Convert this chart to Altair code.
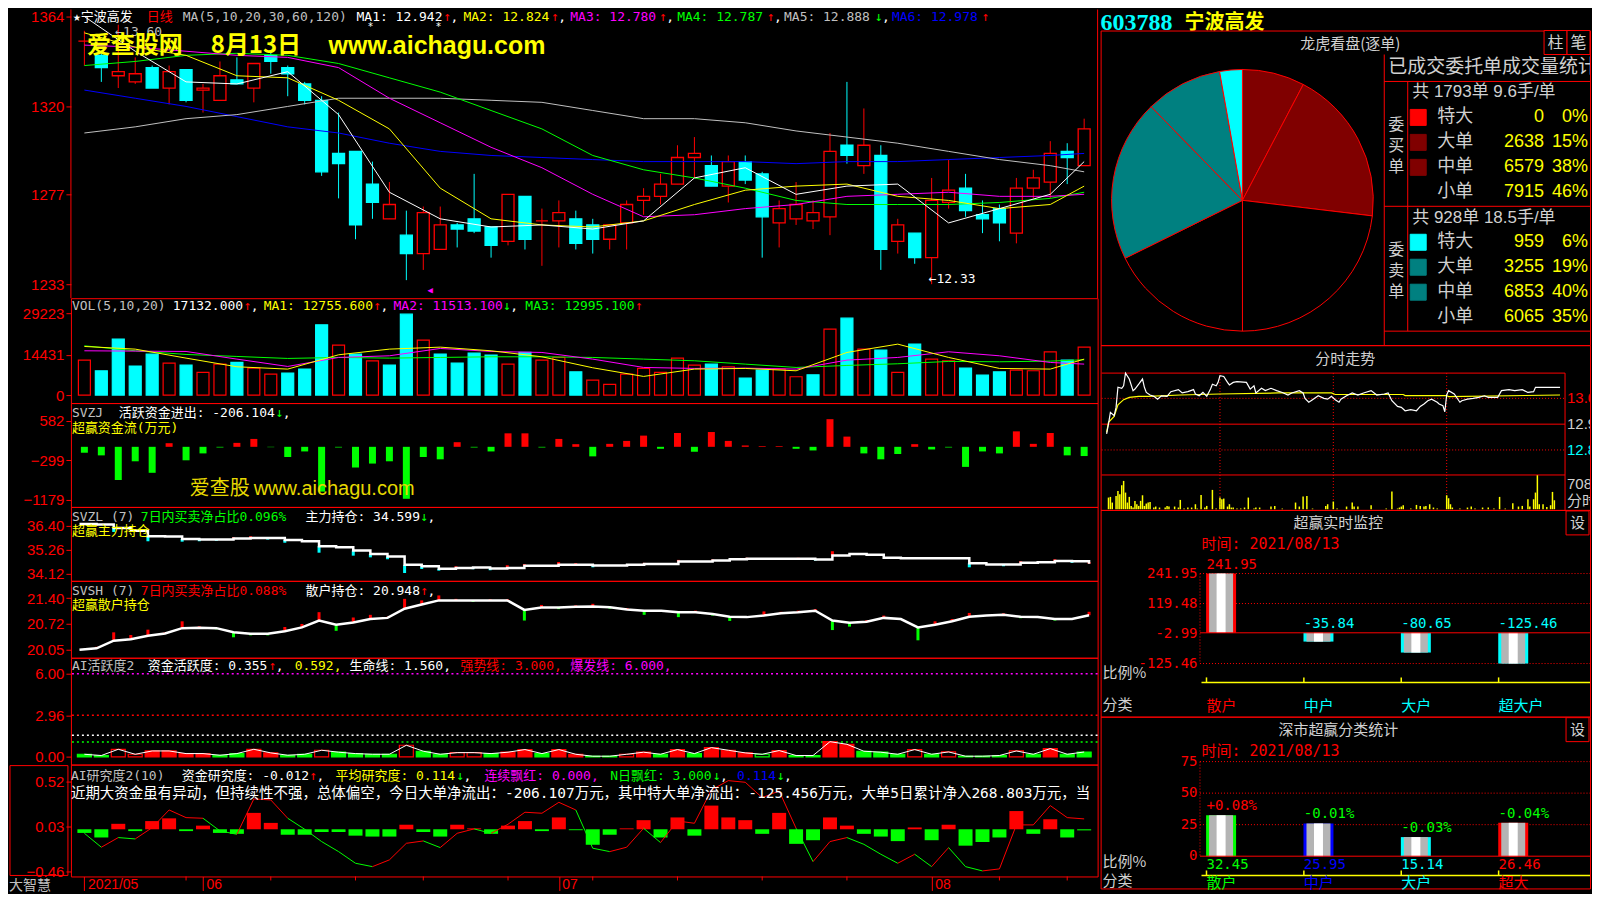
import altair as alt
import pandas as pd
import numpy as np

RED = '#ff0000'; CYAN = '#00ffff'; GREEN = '#00ff00'; YEL = '#ffff00'
MAG = '#ff00ff'; WHITE = '#ffffff'; GRAY = '#c0c0c0'; BLUE = '#0000ff'; BLACK = '#000000'
LGRAY = '#d0d0d0'
MONO = 'DejaVu Sans Mono, Noto Sans CJK SC'
CJK = 'Noto Sans CJK SC'
LAB = 'Liberation Sans'
SANSCJK = 'Liberation Sans, Noto Sans CJK SC'

# ---------------- daily candles (2021-05-21 .. 2021-08-13) ----------------
opens = [13.52, 13.45, 13.35, 13.32, 13.39, 13.29, 13.38, 13.28, 13.23, 13.33,
         13.29, 13.45, 13.39, 13.31, 13.23, 12.97, 12.98, 12.82, 12.65, 12.57,
         12.48, 12.50, 12.62, 12.65, 12.61, 12.54, 12.76, 12.64, 12.64, 12.65,
         12.62, 12.55, 12.63, 12.74, 12.76, 12.82, 12.95, 12.91, 12.81, 12.93,
         12.87, 12.63, 12.65, 12.64, 12.66, 13.01, 12.91, 12.96, 12.54, 12.58,
         12.46, 12.73, 12.80, 12.67, 12.70, 12.58, 12.80, 12.83, 12.98, 12.91]
closes = [13.52, 13.39, 13.37, 13.36, 13.29, 13.37, 13.23, 13.29, 13.35, 13.31,
          13.41, 13.42, 13.36, 13.23, 12.88, 12.92, 12.62, 12.73, 12.72, 12.48,
          12.68, 12.62, 12.60, 12.59, 12.52, 12.77, 12.55, 12.64, 12.68, 12.53,
          12.55, 12.62, 12.72, 12.76, 12.82, 12.95, 12.97, 12.81, 12.93, 12.84,
          12.66, 12.70, 12.72, 12.68, 12.98, 12.96, 13.01, 12.50, 12.62, 12.46,
          12.74, 12.79, 12.69, 12.65, 12.63, 12.80, 12.85, 12.97, 12.95, 13.09]
highs = [13.57, 13.47, 13.60, 13.44, 13.40, 13.40, 13.38, 13.31, 13.42, 13.44,
         13.41, 13.47, 13.40, 13.32, 13.25, 13.17, 12.98, 12.93, 12.83, 12.69,
         12.71, 12.71, 12.63, 12.87, 12.61, 12.77, 12.76, 12.70, 12.74, 12.69,
         12.65, 12.62, 12.74, 12.80, 12.87, 13.01, 13.05, 12.96, 12.96, 12.96,
         12.88, 12.74, 12.83, 12.74, 13.07, 13.32, 13.19, 13.01, 12.65, 12.58,
         12.85, 12.94, 12.87, 12.74, 12.72, 12.85, 12.89, 13.03, 13.02, 13.14]
lows = [13.40, 13.32, 13.29, 13.31, 13.29, 13.21, 13.22, 13.17, 13.23, 13.31,
        13.22, 13.36, 13.25, 13.21, 12.86, 12.75, 12.55, 12.65, 12.65, 12.35,
        12.40, 12.50, 12.51, 12.58, 12.46, 12.52, 12.50, 12.42, 12.51, 12.50,
        12.48, 12.50, 12.50, 12.67, 12.72, 12.82, 12.85, 12.81, 12.73, 12.82,
        12.46, 12.51, 12.62, 12.60, 12.57, 12.92, 12.87, 12.40, 12.48, 12.43,
        12.33, 12.70, 12.66, 12.58, 12.54, 12.53, 12.75, 12.75, 12.82, 12.91]

# moving averages read at every third trading day
ma_idx = [0, 3, 6, 9, 12, 15, 18, 21, 24, 27, 30, 33, 36, 39, 42, 45, 48, 51, 54, 57, 59]
ma5 = [13.64, 13.47, 13.32, 13.31, 13.37, 13.16, 12.78, 12.65, 12.61, 12.62, 12.60,
       12.64, 12.85, 12.90, 12.77, 12.81, 12.82, 12.63, 12.70, 12.77, 12.93]
ma10 = [13.56, 13.49, 13.45, 13.35, 13.34, 13.23, 13.09, 12.80, 12.65, 12.62, 12.61,
        12.64, 12.72, 12.79, 12.81, 12.82, 12.76, 12.74, 12.70, 12.72, 12.81]
ma20 = [13.50, 13.49, 13.47, 13.45, 13.44, 13.39, 13.24, 13.12, 13.00, 12.90, 12.77,
        12.66, 12.67, 12.70, 12.72, 12.76, 12.77, 12.78, 12.76, 12.76, 12.77]
ma30 = [13.40, 13.42, 13.45, 13.46, 13.45, 13.41, 13.34, 13.27, 13.18, 13.09, 12.96,
        12.89, 12.85, 12.80, 12.74, 12.72, 12.72, 12.72, 12.73, 12.75, 12.78]
ma60 = [13.07, 13.10, 13.14, 13.16, 13.20, 13.24, 13.24, 13.24, 13.23, 13.22, 13.18,
        13.14, 13.14, 13.12, 13.08, 13.05, 13.02, 12.98, 12.94, 12.91, 12.88]
ma120 = [13.28, 13.24, 13.20, 13.15, 13.10, 13.07, 13.02, 12.98, 12.96, 12.95, 12.94,
         12.93, 12.93, 12.93, 12.92, 12.93, 12.93, 12.94, 12.95, 12.96, 12.97]

volumes = [12474, 8672, 19958, 10336, 14612, 11405, 10692, 8078, 11048, 11642,
           9623, 7484, 7841, 9266, 25067, 17820, 14612, 12236, 10692, 28868,
           19602, 14612, 11405, 14969, 14256, 11048, 15206, 12474, 13424, 8316,
           5346, 3802, 7484, 9504, 8078, 13187, 10692, 11048, 10098, 6059,
           8910, 9266, 6534, 7247, 23522, 27443, 16394, 16038, 8078, 18176,
           12830, 12236, 9623, 7128, 8316, 8910, 8672, 15444, 12474, 17132]
vol_ma5 = [17345, 16394, 13187, 10098, 9266, 14375, 16394, 17107, 15800, 13662, 9742,
           6653, 9266, 9504, 8672, 15206, 18176, 13424, 9504, 9266, 12830]
vol_ma10 = [15800, 15682, 15563, 12830, 10217, 13424, 14018, 16632, 15563, 15206, 12830,
            9860, 9504, 9623, 9266, 12474, 13424, 15444, 14018, 11642, 11048]
vol_ma20 = [17582, 15800, 14494, 13781, 13068, 13424, 13187, 13424, 13662, 13662, 13424,
            12830, 12236, 11048, 9860, 10573, 11167, 11999, 11880, 12118, 12593]

svzj = [-132, -191, -741, -323, -580, 81, -301, -147, -15, 88,
        176, -8, -228, -103, -1000, -15, -462, -374, -323, -1160,
        -228, -279, 103, -15, -103, 301, 301, -15, 176, 59,
        -213, 66, 132, 250, -44, 308, -110, 330, 132, 30,
        15, 15, -44, -81, 617, 228, -147, -279, -161, 59,
        -59, -15, -448, -103, -147, 345, 66, 308, -191, -206]
svzl = [36.48, 36.45, 36.29, 36.16, 35.90, 35.88, 35.77, 35.74, 35.74, 35.79,
        35.82, 35.82, 35.72, 35.66, 35.43, 35.38, 35.22, 35.06, 34.94, 34.55,
        34.48, 34.36, 34.40, 34.42, 34.37, 34.40, 34.50, 34.50, 34.55, 34.55,
        34.51, 34.51, 34.55, 34.59, 34.59, 34.70, 34.70, 34.75, 34.81, 34.83,
        34.83, 34.83, 34.83, 34.80, 34.99, 35.06, 35.02, 34.88, 34.86, 34.86,
        34.86, 34.86, 34.62, 34.56, 34.56, 34.64, 34.67, 34.73, 34.72, 34.60]
svzl_tick = [0, 0, -0.19, 0, -0.24, 0.06, -0.13, -0.08, -0.06, 0.06,
             0.08, -0.08, -0.13, 0, -0.31, 0, -0.24, -0.16, -0.13, -0.39,
             -0.13, -0.09, 0.08, -0.08, -0.08, 0.13, 0.08, -0.05, 0.13, 0.08,
             -0.08, 0, 0, 0.05, 0, 0.08, 0, 0.05, 0, 0.05,
             0, 0, 0.05, -0.05, 0.2, 0, 0, 0, 0, 0,
             0, 0, -0.19, 0, -0.08, 0.08, 0, 0.08, -0.08, 0.08]
svsh = [20.04, 20.08, 20.28, 20.32, 20.41, 20.47, 20.61, 20.62, 20.61, 20.50,
        20.46, 20.46, 20.53, 20.63, 20.81, 20.70, 20.76, 20.85, 20.88, 21.12,
        21.23, 21.34, 21.34, 21.34, 21.34, 21.34, 21.09, 21.15, 21.15, 21.17,
        21.18, 21.16, 21.10, 21.07, 21.07, 21.03, 21.03, 20.98, 20.91, 20.90,
        20.94, 21.00, 21.03, 21.07, 20.81, 20.75, 20.78, 20.88, 20.85, 20.63,
        20.70, 20.79, 20.91, 20.94, 20.96, 20.91, 20.90, 20.85, 20.85, 20.95]
svsh_tick = [0, 0.04, 0.22, 0.11, 0.16, 0.03, 0.18, 0.04, -0.03, -0.13,
             -0.04, -0.04, 0.11, 0.09, 0.22, -0.16, 0.13, 0.11, 0.03, 0.26,
             0.11, 0.13, 0.04, -0.04, 0.03, 0.03, -0.28, 0.07, -0.04, 0.04,
             0.07, -0.04, 0.04, -0.11, 0, -0.13, 0.04, -0.04, -0.11, 0,
             0.11, 0.04, 0.04, 0.04, -0.25, -0.10, 0.04, 0.06, 0, -0.34,
             0.09, 0.06, 0.10, 0, 0.04, -0.04, 0, -0.04, 0, 0.09]
act = [0.19, 0.10, 0.55, 0.19, 0.43, 0.43, 0.24, 0.24, 0.12, 0.24,
       0.55, 0.29, 0.12, 0.19, 0.48, 0.34, 0.24, 0.19, 0.19, 0.84,
       0.41, 0.19, 0.31, 0.31, 0.24, 0.34, 0.53, 0.24, 0.53, 0.19,
       0.05, 0.05, 0.19, 0.34, 0.19, 0.53, 0.24, 0.67, 0.48, 0.29,
       0.19, 0.46, 0.10, 0.10, 1.10, 0.91, 0.41, 0.34, 0.19, 0.53,
       0.19, 0.36, 0.05, 0.05, 0.10, 0.43, 0.19, 0.60, 0.19, 0.355]
act_type = "gghhrrrrgg" "rrgghggggh" "gghhgrrgrr" "gghrgrgrrr" "qrggrrgggh" "ghggghgrgg"
act_levels = [6.0, 3.0, 1.56, 1.08]
res_bar = [-0.04, -0.09, 0.06, -0.02, 0.09, 0.12, -0.02, 0.04, -0.04, -0.05,
           0.18, 0.07, -0.06, -0.06, -0.03, -0.03, -0.07, -0.08, -0.08, 0.05,
           -0.03, -0.08, 0.05, 0.01, -0.05, 0.04, 0.09, -0.02, 0.13, -0.01,
           -0.17, -0.06, 0.01, 0.10, -0.09, 0.13, -0.07, 0.26, 0.13, 0.10,
           -0.05, 0.18, -0.16, -0.12, 0.13, 0.04, -0.05, -0.08, -0.13, 0.02,
           -0.12, 0.05, -0.18, -0.14, -0.09, 0.20, -0.05, 0.11, -0.09, -0.012]
res_line = [-0.044, -0.197, -0.091, -0.106, 0.018, 0.212, 0.128, 0.121, -0.018, -0.055,
            0.333, 0.322, 0.121, 0.0, -0.135, -0.245, -0.373, -0.41, -0.336, -0.154,
            -0.128, -0.201, -0.044, 0.004, -0.044, 0.055, 0.187, 0.176, 0.296, 0.212,
            -0.208, -0.245, -0.197, 0.011, -0.146, 0.091, 0.066, 0.432, 0.534, 0.516,
            0.347, 0.421, 0.011, -0.355, -0.135, -0.091, -0.165, -0.274, -0.373, -0.274,
            -0.41, -0.201, -0.41, -0.457, -0.435, 0.048, 0.048, 0.26, 0.128, 0.114]
month_ticks = [0, 7, 28, 50]
month_labels = ['2021/05', '06', '07', '08']
week_ticks = [6, 11, 16, 20, 25, 30, 35, 40, 45, 54, 58]

# ---------------- right side ----------------
buy_names = ['特大', '大单', '中单', '小单']
buy_vol = [0, 2638, 6579, 7915]
buy_pct = [0, 15, 38, 46]
sell_vol = [959, 3255, 6853, 6065]
sell_pct = [6, 19, 40, 35]
buy_orders, buy_avg = 1793, 9.6
sell_orders, sell_avg = 928, 18.5

intra_min = [0, 1, 2, 4, 5, 6, 8, 9, 10, 12, 14, 15, 17, 19, 20, 21, 23, 25, 27, 29,
             32, 34, 38, 40, 43, 46, 47, 49, 51, 53, 55, 56, 58, 59, 60, 62, 64, 65, 67, 69,
             74, 76, 78, 79, 82, 84, 87, 90, 93, 96, 98, 102, 104, 105, 107, 109, 112, 115, 117, 119,
             121, 123, 124, 127, 130, 133, 136, 140, 143, 147, 149, 151, 154, 156, 158, 161, 164, 166, 168, 170,
             172, 175, 176, 178, 179, 180, 181, 184, 187, 188, 191, 194, 197, 200, 202, 207, 209, 213, 216, 220,
             223, 226, 227, 233, 240]
intra_price = [12.922, 12.961, 13.006, 12.993, 13.025, 13.103, 13.099, 13.109, 13.158, 13.135,
               13.090, 13.096, 13.115, 13.135, 13.103, 13.083, 13.073, 13.068, 13.057, 13.070,
               13.068, 13.086, 13.094, 13.081, 13.086, 13.094, 13.077, 13.070, 13.083, 13.068,
               13.096, 13.115, 13.109, 13.122, 13.148, 13.145, 13.122, 13.112, 13.122, 13.125,
               13.122, 13.096, 13.109, 13.081, 13.099, 13.090, 13.099, 13.090, 13.083, 13.073,
               13.081, 13.090, 13.081, 13.060, 13.045, 13.055, 13.070, 13.060, 13.057, 13.068,
               13.055, 13.045, 13.057, 13.070, 13.081, 13.073, 13.081, 13.090, 13.073, 13.077,
               13.081, 13.051, 13.029, 13.025, 13.012, 13.016, 13.012, 13.029, 13.038, 13.051,
               13.057, 13.045, 13.038, 13.032, 13.008, 13.073, 13.090, 13.077, 13.045, 13.051,
               13.057, 13.060, 13.064, 13.070, 13.064, 13.064, 13.090, 13.094, 13.090, 13.094,
               13.083, 13.086, 13.103, 13.103, 13.103]
avg_min = [0, 1, 4, 6, 9, 12, 17, 22, 39, 60, 91, 119, 121, 157, 158, 180, 181, 240]
avg_price = [12.928, 12.967, 12.990, 13.035, 13.055, 13.064, 13.068, 13.068, 13.073, 13.077,
             13.081, 13.081, 13.075, 13.075, 13.071, 13.071, 13.067, 13.073]
iv_min = [1, 2, 3, 5, 6, 7, 8, 9, 10, 11, 12, 13, 14, 15, 16, 17, 18, 19, 20, 21,
          22, 23, 25, 26, 28, 31, 32, 33, 36, 38, 39, 41, 43, 45, 47, 48, 50, 52, 53, 56,
          58, 60, 61, 62, 64, 65, 66, 67, 69, 71, 73, 75, 78, 79, 81, 87, 89, 93, 100, 102,
          104, 106, 109, 116, 117, 120, 122, 127, 130, 131, 133, 140, 148, 151, 154, 155, 156, 157, 161, 164,
          166, 168, 169, 171, 173, 175, 180, 181, 182, 183, 187, 191, 193, 195, 199, 202, 205, 208, 211, 215,
          218, 220, 223, 224, 226, 227, 228, 229, 231, 233, 235, 236, 237]
iv_vol = [243, 257, 139, 278, 382, 312, 500, 590, 347, 139, 257, 69, 35, 174, 104, 69, 174, 291, 69, 118,
          139, 153, 35, 56, 35, 35, 69, 56, 56, 35, 194, 14, 35, 35, 104, 14, 298, 35, 69, 403,
          14, 243, 208, 222, 56, 104, 35, 35, 14, 14, 35, 243, 14, 35, 35, 56, 69, 14, 139, 56,
          264, 278, 14, 69, 104, 160, 14, 56, 139, 56, 56, 83, 14, 368, 14, 35, 56, 83, 14, 90,
          69, 56, 69, 104, 35, 14, 291, 229, 104, 35, 14, 35, 56, 14, 35, 35, 14, 257, 14, 125,
          56, 69, 208, 56, 208, 347, 708, 104, 104, 49, 83, 361, 187]
intra_levels = [13.06, 12.96, 12.86]
intra_top, intra_bottom, intra_vmax = 13.158, 12.763, 708

rt_cats = ['散户', '中户', '大户', '超大户']
rt_vals = [241.95, -35.84, -80.65, -125.46]
rt_ticks = [241.95, 119.48, -2.99, -125.46]
sz_cats = ['散户', '中户', '大户', '超大']
sz_vals = [32.45, 25.95, 15.14, 26.46]
sz_chg = ['+0.08%', '-0.01%', '-0.03%', '-0.04%']
sz_ticks = [75, 50, 25, 0]

# ---------------- helpers ----------------
ONE = pd.DataFrame({'k': [0]})


def T(s, x, y, color, size=13, align='left', font=MONO, weight='normal', baseline='middle', clip=False):
    return alt.Chart(ONE).mark_text(text=s, align=align, baseline=baseline, color=color, fontSize=size,
                                    font=font, fontWeight=weight, clip=clip).encode(
        x=alt.value(x), y=alt.value(y))


def VR(x, y1, y2, color=RED, dash=None, w=1):
    kw = dict(color=color, strokeWidth=w)
    if dash is not None:
        kw['strokeDash'] = dash
    return alt.Chart(ONE).mark_rule(**kw).encode(x=alt.value(x), y=alt.value(y1), y2=alt.value(y2))


def HR(y, x1, x2, color=RED, dash=None, w=1):
    kw = dict(color=color, strokeWidth=w)
    if dash is not None:
        kw['strokeDash'] = dash
    return alt.Chart(ONE).mark_rule(**kw).encode(y=alt.value(y), x=alt.value(x1), x2=alt.value(x2))


def BOX(x1, x2, y1, y2, stroke=RED, fill=BLACK):
    return alt.Chart(ONE).mark_rect(stroke=stroke, fill=fill, strokeWidth=1).encode(
        x=alt.value(x1), x2=alt.value(x2), y=alt.value(y1), y2=alt.value(y2))


PW = 1028
XS = alt.Scale(domain=[-0.5, 59.5], nice=False, zero=False)


def X(field='i', axis=None):
    return alt.X(f'{field}:Q', scale=XS, axis=axis)


def yax(values, fmt='.2f', expr=None):
    kw = dict(values=values, title=None, grid=False, domain=False, ticks=True, tickColor=RED, tickSize=5,
              labelColor=RED, labelFont=LAB, labelFontSize=15, labelPadding=2, minExtent=62, maxExtent=62,
              format=fmt, orient='left', labelBaseline='middle')
    if expr:
        kw['labelExpr'] = expr
    return alt.Axis(**kw)


def Yer(dom, axis):
    sc = alt.Scale(domain=dom, nice=False, zero=False)
    return lambda f: alt.Y(f'{f}:Q', scale=sc, axis=axis)


TRANSP = alt.ViewBackground(stroke='transparent')

# ---------------- P1 : candles ----------------
cdf = pd.DataFrame({'i': range(60), 'o': opens, 'c': closes, 'h': highs, 'l': lows})
up = cdf['c'] >= cdf['o']
cdf['col'] = np.where(up, RED, CYAN)
cdf['fill'] = np.where(up, BLACK, CYAN)
H1 = 289
Y1 = Yer([12.2616, 13.674], yax([13.64, 13.20, 12.77, 12.33], expr="format(datum.value*100, '.0f')"))
wick = alt.Chart(cdf).mark_rule(strokeWidth=1).encode(x=X(), y=Y1('l'), y2='h',
                                                       color=alt.Color('col:N', scale=None))
body = alt.Chart(cdf).mark_bar(size=12, strokeWidth=1.3).encode(
    x=X(), y=Y1('o'), y2='c', fill=alt.Fill('fill:N', scale=None), stroke=alt.Stroke('col:N', scale=None))
mdf = pd.DataFrame({'i': ma_idx, 'm5': ma5, 'm10': ma10, 'm20': ma20, 'm30': ma30, 'm60': ma60, 'm120': ma120})
ma_layers = [alt.Chart(mdf).mark_line(color=c, strokeWidth=1).encode(x=X(), y=Y1(f))
             for f, c in [('m120', BLUE), ('m60', GRAY), ('m30', GREEN), ('m20', MAG), ('m10', YEL), ('m5', WHITE)]]
ihi = int(np.argmax(highs)); ilo = int(np.argmin(lows))
ann = pd.DataFrame({'i': [ihi, ilo], 'v': [highs[ihi], lows[ilo]],
                    't': [f'←{highs[ihi]:.2f}', f'←{lows[ilo]:.2f}']})
ann_hi = alt.Chart(ann.iloc[[0]]).mark_text(align='left', baseline='middle', dx=-3, dy=7, color=GRAY,
                                             fontSize=13, font=MONO).encode(x=X(), y=Y1('v'), text='t:N')
ann_lo = alt.Chart(ann.iloc[[1]]).mark_text(align='left', baseline='middle', dx=-3, dy=-5, color=WHITE,
                                             fontSize=13, font=MONO).encode(x=X(), y=Y1('v'), text='t:N')
HY = 7
p1_text = [
    T('★宁波高发', 2, HY, WHITE), T('日线', 76, HY, RED), T('MA(5,10,20,30,60,120)', 112, HY, GRAY),
    T('MA1: 12.942', 286, HY, WHITE), T('↑', 373, HY, RED), T(',', 380, HY, WHITE),
    T('MA2: 12.824', 393, HY, YEL), T('↑', 481, HY, RED), T(',', 488, HY, WHITE),
    T('MA3: 12.780', 500, HY, MAG), T('↑', 589, HY, RED), T(',', 596, HY, WHITE),
    T('MA4: 12.787', 607, HY, GREEN), T('↑', 697, HY, RED), T(',', 704, HY, WHITE),
    T('MA5: 12.888', 714, HY, GRAY), T('↓', 805, HY, GREEN), T(',', 812, HY, WHITE),
    T('MA6: 12.978', 822, HY, BLUE), T('↑', 912, HY, RED),
    T('*', 300, 17, WHITE, 10, align='center'), T('*', 368, 17, WHITE, 10, align='center'),
    T('爱查股网', 16, 36, YEL, 24, font=CJK, weight='bold'),
    T('8月13日', 140, 36, YEL, 24, font=CJK, weight='bold'),
    T('www.aichagu.com', 258, 36, YEL, 25, font=LAB, weight='bold'),
    T('◀', 357, 281, MAG, 9),
]
P1 = alt.layer(VR(0, 0, H1), VR(PW, 0, H1), wick, body, *ma_layers, ann_hi, ann_lo, *p1_text).properties(
    width=PW, height=H1, view=TRANSP)

# ---------------- P2 : volume ----------------
vol_red = [True] + [closes[k] >= closes[k - 1] for k in range(1, 60)]
vdf = pd.DataFrame({'i': range(60), 'v': volumes})
vdf['col'] = np.where(vol_red, RED, CYAN)
vdf['fill'] = np.where(vol_red, BLACK, CYAN)
Y2f = Yer([-2851, 34569], yax([29223, 14431, 0], fmt='d'))
vbars = alt.Chart(vdf).mark_bar(size=12, strokeWidth=1.2).encode(
    x=X(), y=Y2f('v'), y2=alt.datum(0), fill=alt.Fill('fill:N', scale=None), stroke=alt.Stroke('col:N', scale=None))
vmdf = pd.DataFrame({'i': ma_idx, 'a': vol_ma5, 'b': vol_ma10, 'c': vol_ma20})
vma = [alt.Chart(vmdf).mark_line(color=c, strokeWidth=1).encode(x=X(), y=Y2f(f))
       for f, c in [('c', GREEN), ('b', MAG), ('a', YEL)]]
p2_text = [T('VOL(5,10,20)', 1, 8, GRAY), T('17132.000', 102, 8, WHITE), T('↑', 173, 8, RED), T(',', 180, 8, WHITE),
           T('MA1: 12755.600', 193, 8, YEL), T('↑', 303, 8, RED), T(',', 310, 8, WHITE),
           T('MA2: 11513.100', 323, 8, MAG), T('↓', 433, 8, GREEN), T(',', 440, 8, WHITE),
           T('MA3: 12995.100', 455, 8, GREEN), T('↑', 565, 8, RED)]
P2 = alt.layer(vbars, *vma, *p2_text).properties(width=PW, height=105)

# ---------------- P3 : SVZJ ----------------
zdf = pd.DataFrame({'i': range(60), 'v': svzj})
zdf['col'] = np.where(zdf['v'] > 0, RED, GREEN)
Y3 = Yer([-1341.7, 976.6], yax([582, -299, -1179], fmt='d'))
zbars = alt.Chart(zdf).mark_bar(size=7).encode(x=X(), y=Y3('v'), y2=alt.datum(0),
                                               color=alt.Color('col:N', scale=None))
p3_text = [T('SVZJ', 1, 10, GRAY), T('活跃资金进出: -206.104', 48, 10, WHITE), T('↓', 205, 10, GREEN),
           T(',', 212, 10, WHITE), T('超赢资金流(万元)', 1, 25, YEL),
           T('爱查股', 119, 86, '#e6d800', 20, font=CJK), T('www.aichagu.com', 183, 86, '#e6d800', 20, font=LAB)]
P3 = alt.layer(zbars, *p3_text).properties(width=PW, height=104)


def tick_layer(vals, deltas, Yf, down_col):
    d = pd.DataFrame({'i': range(60), 'v': vals, 'dv': deltas})
    d = d[d['dv'] != 0].copy()
    d['v2'] = d['v'] + d['dv']
    d['col'] = np.where(d['dv'] > 0, RED, down_col)
    return alt.Chart(d).mark_rule(strokeWidth=3).encode(x=X(), y=Yf('v'), y2='v2',
                                                       color=alt.Color('col:N', scale=None))


# ---------------- P4 : SVZL ----------------
Y4 = Yer([33.79, 37.283], yax([36.40, 35.26, 34.12]))
ldf4 = pd.DataFrame({'i': range(60), 'v': svzl})
l4 = alt.Chart(ldf4).mark_line(color=WHITE, strokeWidth=2.5, interpolate='step-after').encode(x=X(), y=Y4('v'))
p4_text = [T('SVZL (7)', 1, 10, GRAY), T('7日内买卖净占比0.096%', 70, 10, GREEN),
           T('主力持仓: 34.599', 235, 10, WHITE), T('↓', 350, 10, GREEN), T(',', 357, 10, WHITE),
           T('超赢主力持仓', 1, 24, YEL)]
P4 = alt.layer(tick_layer(svzl, svzl_tick, Y4, CYAN), l4, *p4_text).properties(width=PW, height=74)

# ---------------- P5 : SVSH ----------------
Y5 = Yer([19.832, 21.854], yax([21.40, 20.72, 20.05]))
ldf5 = pd.DataFrame({'i': range(60), 'v': svsh})
l5 = alt.Chart(ldf5).mark_line(color=WHITE, strokeWidth=2.5).encode(x=X(), y=Y5('v'))
p5_text = [T('SVSH (7)', 1, 10, GRAY), T('7日内买卖净占比0.088%', 70, 10, RED),
           T('散户持仓: 20.948', 235, 10, WHITE), T('↑', 350, 10, RED), T(',', 357, 10, WHITE),
           T('超赢散户持仓', 1, 24, YEL)]
P5 = alt.layer(tick_layer(svsh, svsh_tick, Y5, GREEN), l5, *p5_text).properties(width=PW, height=77)

# ---------------- P6 : AI活跃度 ----------------
tmap = {'g': (GREEN, GREEN), 'r': (RED, RED), 'h': (BLACK, RED), 'q': (BLACK, GREEN)}
adf = pd.DataFrame({'i': range(60), 'v': act})
adf['fill'] = [tmap[t][0] for t in act_type]
adf['stroke'] = [tmap[t][1] for t in act_type]
Y6 = Yer([-0.555, 7.153], yax([6.00, 2.96, 0.00]))
lvl = pd.DataFrame({'v': act_levels, 'col': [MAG, RED, WHITE, GREEN]})
lv_rules = alt.Chart(lvl).mark_rule(strokeDash=[2, 3], strokeWidth=1.5).encode(
    y=Y6('v'), color=alt.Color('col:N', scale=None))
abars = alt.Chart(adf).mark_bar(size=14, strokeWidth=1.2).encode(
    x=X(), y=Y6('v'), y2=alt.datum(0), fill=alt.Fill('fill:N', scale=None), stroke=alt.Stroke('stroke:N', scale=None))
aline = alt.Chart(adf).mark_line(color=WHITE, strokeWidth=1).encode(x=X(), y=Y6('v'))
p6_text = [T('AI活跃度2', 1, 8, GRAY), T('资金活跃度: 0.355', 77, 8, WHITE), T('↑', 198, 8, RED),
           T(',', 205, 8, WHITE), T('0.592,', 224, 8, YEL), T('生命线: 1.560,', 279, 8, WHITE),
           T('强势线: 3.000,', 390, 8, RED), T('爆发线: 6.000,', 500, 8, MAG)]
P6 = alt.layer(lv_rules, abars, aline, *p6_text).properties(width=PW, height=107)

# ---------------- P7 : AI研究度 ----------------
H7 = 112
lab_expr = ' : '.join([f"datum.value == {t} ? '{l}'" for t, l in zip(month_ticks[:-1], month_labels[:-1])]) \
    + f" : '{month_labels[-1]}'"
xax7 = alt.Axis(values=month_ticks, labelExpr=lab_expr, title=None, grid=False, domain=False, ticks=True,
                tickColor=RED, tickSize=14, labelColor=RED, labelFont=LAB, labelFontSize=14, labelAlign='left',
                labelBaseline='top', labelPadding=-13, labelOffset=3, minExtent=15, maxExtent=15, orient='bottom')
Y7 = Yer([-0.518, 0.710], yax([0.52, 0.03, -0.46]))
rdf = pd.DataFrame({'i': range(60), 'v': res_bar})
rdf['col'] = np.where(rdf['v'] > 0, RED, GREEN)
rbars = alt.Chart(rdf).mark_bar(size=14).encode(x=X(axis=xax7), y=Y7('v'), y2=alt.datum(0),
                                                color=alt.Color('col:N', scale=None))
seg = pd.DataFrame({'i': range(59), 'i2': range(1, 60), 'v': res_line[:-1], 'v2': res_line[1:]})
seg['col'] = np.where((seg['v2'] > seg['v']) | (seg['v2'] > 0), RED, GREEN)
rline = alt.Chart(seg).mark_rule(strokeWidth=1).encode(x=X(axis=xax7), x2='i2', y=Y7('v'), y2='v2',
                                                       color=alt.Color('col:N', scale=None))
wk = alt.Chart(pd.DataFrame({'i': week_ticks})).mark_rule(color=RED, strokeWidth=1).encode(
    x=X(axis=xax7), y=alt.value(H7), y2=alt.value(H7 + 4))
p7_text = [T('AI研究度2(10)', 0, 11, GRAY), T('资金研究度: -0.012', 111, 11, WHITE), T('↑', 239, 11, RED),
           T(',', 246, 11, WHITE), T('平均研究度: 0.114', 265, 11, YEL), T('↓', 386, 11, GREEN),
           T(',', 393, 11, WHITE), T('连续飘红: 0.000,', 414, 11, MAG), T('N日飘红: 3.000', 540, 11, GREEN),
           T('↓', 643, 11, GREEN), T(',', 650, 11, WHITE), T('0.114', 667, 11, BLUE), T('↓', 707, 11, GREEN),
           T(',', 714, 11, WHITE),
           T('近期大资金虽有异动，但持续性不强，总体偏空，今日大单净流出：-206.107万元，其中特大单净流出：-125.456万元，大单5日累计净入268.803万元，当',
             0, 29, WHITE, 14.5, clip=True),
           BOX(-61, -3, 1, H7 - 1, stroke=RED, fill='transparent'),
           T('大智慧', -62, H7 + 9.5, GRAY, 14, font=CJK)]
P7 = alt.layer(rbars, rline, wk, *p7_text).properties(width=PW, height=H7)

left = alt.vconcat(P1, P2, P3, P4, P5, P6, P7, spacing=0, bounds='flush')

# ---------------- right column ----------------
RW = 490
R1 = alt.layer(T('603788', 0, 20, CYAN, 24, font='Liberation Serif', weight='bold', baseline='alphabetic'),
               T('宁波高发', 84, 19, YEL, 20, font=CJK, weight='bold', baseline='alphabetic')).properties(
    width=RW, height=21, view=TRANSP)

pie_df = pd.DataFrame({'ord': range(8),
                       'vol': [buy_vol[0], buy_vol[1], buy_vol[2], buy_vol[3],
                               sell_vol[3], sell_vol[2], sell_vol[1], sell_vol[0]],
                       'col': [RED, '#800000', '#800000', BLACK, BLACK, '#008080', '#008080', CYAN]})
pie = alt.Chart(pie_df).mark_arc(radius=131, stroke=RED, strokeWidth=1).encode(
    theta=alt.Theta('vol:Q', stack=True), order=alt.Order('ord:Q'),
    fill=alt.Fill('col:N', scale=None), x=alt.value(142), y=alt.value(170))
buy_sq = [RED, '#800000', '#800000', None]
sell_sq = [CYAN, '#008080', '#008080', None]
tab = []
for rows_y, vols, pcts, sqs in [([87, 112, 137, 162], buy_vol, buy_pct, buy_sq),
                                ([212, 237, 262, 287], sell_vol, sell_pct, sell_sq)]:
    for yy, nm, v, p, sq in zip(rows_y, buy_names, vols, pcts, sqs):
        if sq:
            tab.append(BOX(310, 326, yy - 8, yy + 8, stroke=sq, fill=sq))
        tab.append(T(nm, 337, yy, LGRAY, 18, font=CJK))
        tab.append(T(str(v), 444, yy, YEL, 18, font=LAB, align='right'))
        tab.append(T(f'{p}%', 488, yy, YEL, 18, font=LAB, align='right'))
r2_dec = [
    T('龙虎看盘(逐单)', 250, 13, LGRAY, 15, font=CJK, align='center'),
    BOX(444, 467, 0, 24), BOX(467, 490, 0, 24),
    T('柱', 455.5, 12, LGRAY, 16, font=CJK, align='center'), T('笔', 478.5, 12, LGRAY, 16, font=CJK, align='center'),
    VR(284, 24, 315), HR(51, 284, 490), HR(176, 284, 490), HR(301, 284, 490), VR(307.5, 51, 301),
    T('已成交委托单成交量统计', 288, 37, LGRAY, 19, font=CJK, clip=True),
    T(f'共 {buy_orders}单 {buy_avg}手/单', 312, 62, LGRAY, 17, font=SANSCJK),
    T(f'共 {sell_orders}单 {sell_avg}手/单', 312, 188, LGRAY, 17, font=SANSCJK),
    T('委', 296, 95, LGRAY, 16, font=CJK, align='center'), T('买', 296, 116, LGRAY, 16, font=CJK, align='center'),
    T('单', 296, 137, LGRAY, 16, font=CJK, align='center'),
    T('委', 296, 220, LGRAY, 16, font=CJK, align='center'), T('卖', 296, 241, LGRAY, 16, font=CJK, align='center'),
    T('单', 296, 262, LGRAY, 16, font=CJK, align='center'),
]
R2 = alt.layer(pie, *r2_dec, *tab).properties(width=RW, height=315)

# intraday
XS3 = alt.Scale(domain=[0, 240], range=[1, 465], nice=False, zero=False)
YP = alt.Scale(domain=[intra_bottom, intra_top], range=[130, 28], nice=False, zero=False)
YV = alt.Scale(domain=[0, intra_vmax], range=[164.3, 130.3], nice=False, zero=False)
idf = pd.DataFrame({'m': intra_min, 'p': intra_price})
adf2 = pd.DataFrame({'m': avg_min, 'p': avg_price})
ivdf = pd.DataFrame({'m': iv_min, 'v': iv_vol})
grid_solid = pd.DataFrame({'p': [intra_top, intra_levels[1], intra_bottom]})
grid_dot = pd.DataFrame({'p': [intra_levels[0], intra_levels[2]]})
lbl3 = pd.DataFrame({'p': intra_levels, 't': [f'{v:.2f}' for v in intra_levels], 'c': [RED, LGRAY, CYAN]})
r3 = [
    alt.Chart(grid_solid).mark_rule(color=RED).encode(x=alt.value(1), x2=alt.value(465),
                                                       y=alt.Y('p:Q', scale=YP, axis=None)),
    alt.Chart(grid_dot).mark_rule(color=RED, strokeDash=[1, 2]).encode(x=alt.value(1), x2=alt.value(465),
                                                                        y=alt.Y('p:Q', scale=YP, axis=None)),
    alt.Chart(pd.DataFrame({'m': [60, 120, 180]})).mark_rule(color=RED, strokeDash=[1, 2]).encode(
        x=alt.X('m:Q', scale=XS3, axis=None), y=alt.value(28), y2=alt.value(165)),
    VR(465, 28, 165),
    alt.Chart(ivdf).mark_bar(size=1.5, color=YEL).encode(x=alt.X('m:Q', scale=XS3, axis=None),
                                                         y=alt.Y('v:Q', scale=YV, axis=None), y2=alt.datum(0)),
    alt.Chart(adf2).mark_line(color=YEL, strokeWidth=1.2).encode(x=alt.X('m:Q', scale=XS3, axis=None),
                                                                 y=alt.Y('p:Q', scale=YP, axis=None)),
    alt.Chart(idf).mark_line(color=WHITE, strokeWidth=1.2).encode(x=alt.X('m:Q', scale=XS3, axis=None),
                                                                  y=alt.Y('p:Q', scale=YP, axis=None)),
    alt.Chart(lbl3).mark_text(align='left', baseline='middle', font=LAB, fontSize=15, clip=True).encode(
        x=alt.value(467), y=alt.Y('p:Q', scale=YP, axis=None), text='t:N', color=alt.Color('c:N', scale=None)),
    T(str(intra_vmax), 467, 139, LGRAY, 15, font=LAB, clip=True),
    T('分时', 467, 156, LGRAY, 15, font=CJK, clip=True),
    T('分时走势', 245, 14, LGRAY, 15, font=CJK, align='center'),
]
R3 = alt.layer(*r3).resolve_scale(y='independent').properties(width=RW, height=165)


def bar_panel(h, title, cats, vals, edges, ticks, tick_labels, dom, rng, grid_dot_vals, top_labels, top_cols,
              low_labels, low_cols, cat_cols, y_title, y_axis, y_cat, y_pct, y_cat2):
    XS4 = alt.Scale(domain=[-0.15, 3.85], range=[101, 501], nice=False, zero=False)
    YS4 = alt.Scale(domain=dom, range=rng, nice=False, zero=False)
    d = pd.DataFrame({'k': range(4), 'v': vals, 'edge': edges, 'cat': cats, 'ccol': cat_cols,
                      'top': top_labels, 'tcol': top_cols})
    d['ly'] = d['v'].clip(lower=0)
    d['kl'] = d['k'] - 0.15
    xk = alt.X('k:Q', scale=XS4, axis=None)
    xl = alt.X('kl:Q', scale=XS4, axis=None)
    yv = lambda f: alt.Y(f'{f}:Q', scale=YS4, axis=None)
    lay = [
        alt.Chart(pd.DataFrame({'v': grid_dot_vals})).mark_rule(color=RED, strokeDash=[1, 2]).encode(
            x=alt.value(99.5), x2=alt.value(RW), y=yv('v')),
        VR(99.5, rng[1], rng[0], dash=[1, 2]),
        alt.Chart(d).mark_bar(size=30).encode(x=xk, y=yv('v'), y2=alt.datum(0), fill=alt.Fill('edge:N', scale=None)),
        alt.Chart(d).mark_bar(size=24, color='#b4b4b4').encode(x=xk, y=yv('v'), y2=alt.datum(0)),
        alt.Chart(d).mark_bar(size=9, color=WHITE).encode(x=xk, y=yv('v'), y2=alt.datum(0)),
        alt.Chart(pd.DataFrame({'v': [0]})).mark_rule(color=RED).encode(x=alt.value(99.5), x2=alt.value(RW),
                                                                        y=yv('v')),
        alt.Chart(d).mark_text(align='left', baseline='middle', dy=-9, font=MONO, fontSize=14).encode(
            x=xl, y=yv('ly'), text='top:N', color=alt.Color('tcol:N', scale=None)),
        alt.Chart(pd.DataFrame({'v': ticks, 't': tick_labels})).mark_text(
            align='right', baseline='middle', font=MONO, fontSize=14, color=RED).encode(
            x=alt.value(97), y=yv('v'), text='t:N'),
        HR(y_axis, 101, RW, color=YEL, w=1.5),
        alt.Chart(d).mark_rule(color=YEL, strokeWidth=1.5).encode(x=xl, y=alt.value(y_axis - 5), y2=alt.value(y_axis)),
        alt.Chart(d).mark_text(align='left', baseline='middle', font=CJK, fontSize=15).encode(
            x=xl, y=alt.value(y_cat), text='cat:N', color=alt.Color('ccol:N', scale=None)),
        T(title, 238, 13, LGRAY, 15, font=CJK, align='center'),
        T('时间: 2021/08/13', 101, 34, RED, 15, font=MONO),
        BOX(466, 489, 1, 25), T('设', 477.5, 13, LGRAY, 15, font=CJK, align='center'),
        T('比例%', 2, y_title, LGRAY, 15, font=CJK), T('分类', 2, y_cat2, LGRAY, 15, font=CJK),
    ]
    if low_labels is not None:
        d2 = d.assign(low=low_labels, lcol=low_cols)
        lay.append(alt.Chart(d2).mark_text(align='left', baseline='middle', font=MONO, fontSize=14).encode(
            x=xl, y=alt.value(y_pct), text='low:N', color=alt.Color('lcol:N', scale=None)))
    return alt.layer(*lay).properties(width=RW, height=h)


R4 = bar_panel(207, '超赢实时监控', rt_cats, rt_vals, [RED, CYAN, CYAN, CYAN], rt_ticks,
               [f'{v:.2f}' for v in rt_ticks], [-125.46, 241.95], [153.8, 63.7],
               [rt_ticks[0], rt_ticks[1], rt_ticks[3]], [f'{v:.2f}' for v in rt_vals], [RED, CYAN, CYAN, CYAN],
               None, None, [RED, CYAN, CYAN, CYAN], 163, 172.7, 196, 0, 195)
R5 = bar_panel(172, '深市超赢分类统计', sz_cats, sz_vals, [GREEN, BLUE, CYAN, RED], sz_ticks,
               [str(v) for v in sz_ticks], [0, 75], [139.7, 45], [25, 50, 75], sz_chg, [RED, GREEN, GREEN, GREEN],
               [f'{v:.2f}' for v in sz_vals], [GREEN, BLUE, CYAN, RED], [GREEN, BLUE, CYAN, RED],
               146, 159, 167, 149, 165)

right = alt.vconcat(R1, R2, R3, R4, R5, spacing=0, bounds='flush')

chart = alt.hconcat(left, right, spacing=0).properties(background=BLACK, padding=0).configure_view(
    stroke=RED, strokeWidth=1)

chart.save("out.html", embed_options={"renderer": "svg", "actions": False})
